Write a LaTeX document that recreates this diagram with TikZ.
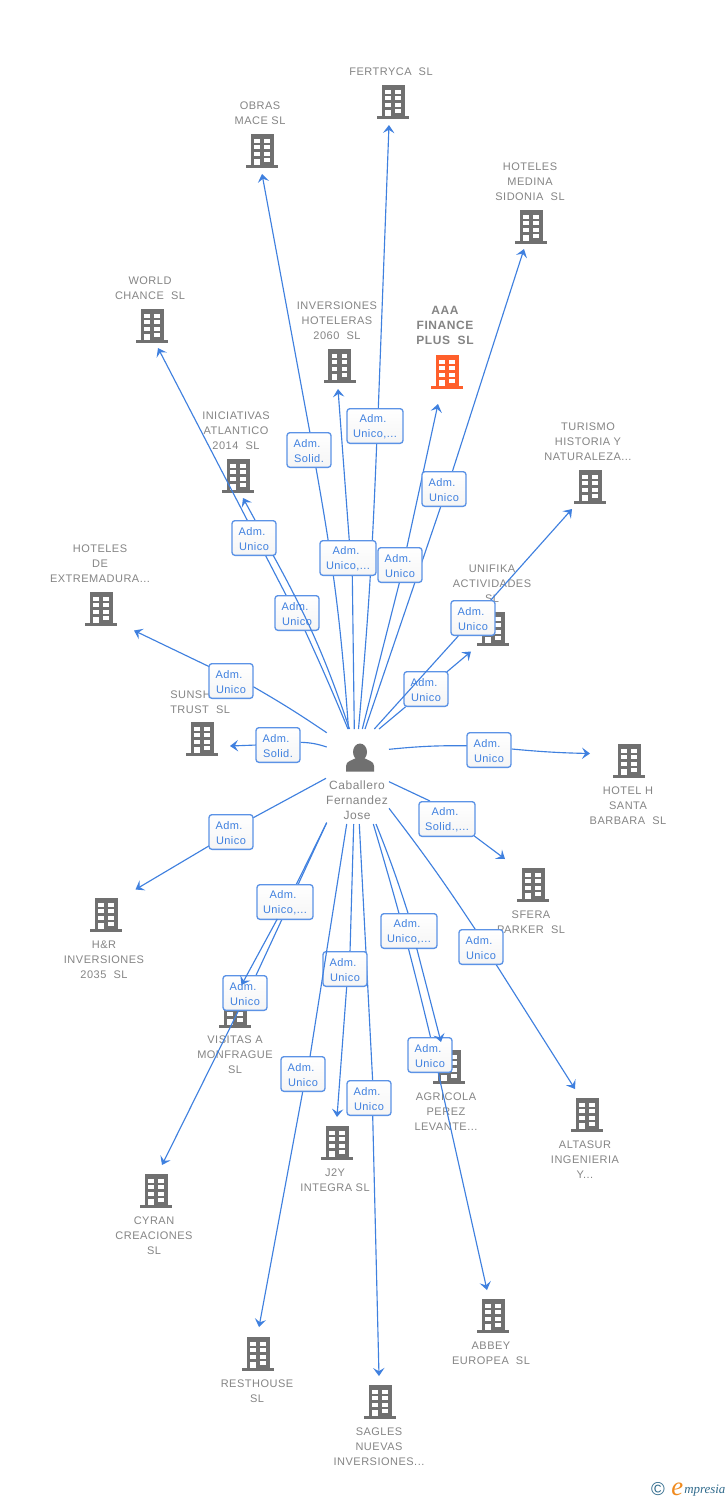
\documentclass[tikz,border=0pt]{standalone}
\usepackage{fontspec}
\setmainfont{Liberation Sans}
\newfontfamily\coF[LetterSpace=4.5]{Liberation Sans}
\newfontfamily\labF[LetterSpace=4]{Liberation Sans}
\newfontfamily\logoF{Liberation Serif}
\usetikzlibrary{arrows.meta,calc}
\pgfdeclarelayer{base}\pgfdeclarelayer{edges}\pgfdeclarelayer{top}
\pgfsetlayers{base,edges,main,top}
\definecolor{txtgray}{HTML}{858585}
\definecolor{icongray}{HTML}{707070}
\definecolor{iconred}{HTML}{FF5F2B}
\definecolor{linkblue}{HTML}{3F80DF}
\definecolor{boxblue}{HTML}{5C93E6}
\definecolor{logoteal}{HTML}{2F6A8C}
\definecolor{logoorange}{HTML}{F08A1D}
\tikzset{
  cotext/.style={anchor=north,align=center,inner sep=0pt,yshift=-2.25pt,text=txtgray,font=\coF\fontsize{8.25}{11.25}\selectfont},
  cobold/.style={anchor=north,align=center,inner sep=0pt,yshift=-1.5pt,text=txtgray,font=\coF\bfseries\fontsize{9}{11.25}\selectfont},
  pertext/.style={anchor=north,align=center,inner sep=0pt,yshift=-1.5pt,text=txtgray,font=\coF\fontsize{9}{11.25}\selectfont},
  lab/.style={draw=boxblue,line width=1pt,rounded corners=2.2pt,top color=white,bottom color=black!4,
     minimum width=33pt,minimum height=26pt,inner sep=0pt,align=center,text=linkblue,
     font=\labF\fontsize{8.25}{11.25}\selectfont},
  labw/.style={lab,minimum width=42pt},
  link/.style={draw=linkblue,line width=.85pt},
  tip/.style={link,-{Stealth[length=6pt,width=8.5pt,inset=2.4pt]}},
  bnode/.style={minimum width=24pt,minimum height=26pt,inner sep=0pt},
  pnode/.style={minimum width=22pt,minimum height=22pt,inner sep=0pt}
}
\newcommand{\adm}{\rule{0pt}{7.6pt}Adm.\kern3pt}
\newcommand{\bldg}[4]{%
  \node[bnode] (#1) at (#2,#3) {};
  \begin{scope}[shift={(#2,#3)}]
    \fill[#4] (-11.5,-17) rectangle (11.5,14);
    \fill[#4] (-16,14) rectangle (16,17);
    \foreach \ry in {-12.5,-6,0.5}{
      \fill[white] (-7.8,\ry) rectangle (-2.2,\ry+4.4);
      \fill[white] (2.2,\ry) rectangle (7.8,\ry+4.4);
    }
    \fill[white] (2.2,7) rectangle (7.8,11.4);
    \fill[white] (-7.8,7.5) rectangle (-2.2,14);
  \end{scope}}
\begin{document}
\begin{tikzpicture}[x=.75pt,y=-.75pt]
\useasboundingbox (0,0) rectangle (728,1500);
\begin{pgfonlayer}{base}
\fill[white] (0,0) rectangle (728,1500);
\bldg{b1}{393}{102}{icongray}
\node[cotext] (c1) at (391,64.5) {FERTRYCA~~SL};
\bldg{b2}{262}{151}{icongray}
\node[cotext] (c2) at (260,98.5) {OBRAS\\MACE SL};
\bldg{b3}{531}{227}{icongray}
\node[cotext] (c3) at (530,159.5) {HOTELES\\MEDINA\\SIDONIA~~SL};
\bldg{b4}{152}{326}{icongray}
\node[cotext] (c4) at (150,273.5) {WORLD\\CHANCE~~SL};
\bldg{b5}{339.5}{366}{icongray}
\node[cotext] (c5) at (337,298.5) {INVERSIONES\\HOTELERAS\\2060~~SL};
\bldg{b6}{447}{372}{iconred}
\node[cobold] (c6) at (445,303.5) {AAA\\FINANCE\\PLUS~~SL};
\bldg{b7}{238}{476}{icongray}
\node[cotext] (c7) at (236,408.5) {INICIATIVAS\\ATLANTICO\\2014~~SL};
\bldg{b8}{590}{487}{icongray}
\node[cotext] (c8) at (588,419.5) {TURISMO\\HISTORIA Y\\NATURALEZA...};
\bldg{b9}{101}{609}{icongray}
\node[cotext] (c9) at (100,541.5) {HOTELES\\DE\\EXTREMADURA...};
\bldg{b10}{493}{629}{icongray}
\node[cotext] (c10) at (492,561.5) {UNIFIKA\\ACTIVIDADES\\SL};
\bldg{b11}{202}{739}{icongray}
\node[cotext,anchor=north west] (c11a) at (170,687.5) {SUNSH};
\node[cotext,anchor=north west] (c11) at (170,702.5) {TRUST~~SL};
\bldg{b12}{629}{761}{icongray}
\node[cotext] (c12) at (628,783.5) {HOTEL H\\SANTA\\BARBARA~~SL};
\bldg{b13}{533}{885}{icongray}
\node[cotext] (c13) at (531,907.5) {SFERA\\PARKER~~SL};
\bldg{b14}{106}{915}{icongray}
\node[cotext] (c14) at (104,937.5) {H\&R\\INVERSIONES\\2035~~SL};
\bldg{b15}{235}{1011}{icongray}
\node[cotext] (c15) at (235,1032.5) {VISITAS A\\MONFRAGUE\\SL};
\bldg{b16}{449}{1067}{icongray}
\node[cotext] (c16) at (446,1089.5) {AGRICOLA\\PEREZ\\LEVANTE...};
\bldg{b17}{587}{1115}{icongray}
\node[cotext] (c17) at (585,1137.5) {ALTASUR\\INGENIERIA\\Y...};
\bldg{b18}{156}{1191}{icongray}
\node[cotext] (c18) at (154,1213.5) {CYRAN\\CREACIONES\\SL};
\bldg{b19}{337}{1143}{icongray}
\node[cotext] (c19) at (335,1165.5) {J2Y\\INTEGRA SL};
\bldg{b20}{258}{1354}{icongray}
\node[cotext] (c20) at (257,1376.5) {RESTHOUSE\\SL};
\bldg{b21}{493}{1316}{icongray}
\node[cotext] (c21) at (491,1338.5) {ABBEY\\EUROPEA~~SL};
\bldg{b22}{380}{1402}{icongray}
\node[cotext] (c22) at (379,1424.5) {SAGLES\\NUEVAS\\INVERSIONES...};
% person
\node[pnode] (p) at (360,757) {};
\fill[icongray] (360,752) ellipse (7 and 8.5);
\fill[icongray] (346,771.5) -- (346,766) .. controls (346,761) and (352,760.5) .. (356,758) -- (364,758) .. controls (368,760.5) and (374,761) .. (374,766) -- (374,771.5) -- cycle;
\node[pertext] (pt) at (357,778.5) {Caballero\\Fernandez\\Jose};
% logo
\node[anchor=center,inner sep=0pt,text=logoteal,font=\fontsize{14}{14}\selectfont] (lg1) at (658,1489) {©};
\node[anchor=base west,inner sep=0pt,text=logoorange,font=\logoF\itshape\fontsize{20}{20}\selectfont] (lg2) at (671,1495) {e};
\node[anchor=base west,inner sep=0pt,text=logoteal,font=\logoF\itshape\fontsize{9.7}{12}\selectfont] (lg3) at (684,1493) {mpresia};
\end{pgfonlayer}

% labels
\node[labw] (l1) at (375,426) {\adm\\Unico,...};
\node[lab]  (l2) at (309,450) {\adm\\Solid.};
\node[lab]  (l3) at (444,489) {\adm\\Unico};
\node[lab]  (l4) at (254,538) {\adm\\Unico};
\node[labw] (l5) at (348,558) {\adm\\Unico,...};
\node[lab]  (l6) at (400,565) {\adm\\Unico};
\node[lab]  (l7) at (297,613) {\adm\\Unico};
\node[lab]  (l8) at (473,618) {\adm\\Unico};
\node[lab]  (l9) at (426,689) {\adm\\Unico};
\node[lab]  (l10) at (231,681) {\adm\\Unico};
\node[lab]  (l11) at (278,745) {\adm\\Solid.};
\node[lab]  (l12) at (489,750) {\adm\\Unico};
\node[labw] (l13) at (447,819) {\adm\\Solid.,...};
\node[lab]  (l14) at (231,832) {\adm\\Unico};
\node[labw] (l15) at (285,902) {\adm\\Unico,...};
\node[labw] (l16) at (409,931) {\adm\\Unico,...};
\node[lab]  (l17) at (481,947) {\adm\\Unico};
\node[lab]  (l18) at (345,969) {\adm\\Unico};
\node[lab]  (l19) at (245,993) {\adm\\Unico};
\node[lab]  (l20) at (430,1055) {\adm\\Unico};
\node[lab]  (l21) at (303,1074) {\adm\\Unico};
\node[lab]  (l22) at (369,1098) {\adm\\Unico};

% free ends
\foreach \n/\sx/\sy/\tx/\ty in {
 1/358.5/729/389/125, 2/348.5/729/262/174, 3/365/729/524/249, 4/349.5/729/243/498,
 5/354.3/729/338/389, 6/362.3/729/438/404, 7/348/729/158/348, 8/374.3/729/572/509,
 9/379/729/471/651.5, 10/326.7/732.7/134/630.5, 11/326.7/747/230/746, 12/389/749.3/590/753.5,
 13/389/781.7/505/859, 14/326/778.3/135.5/889.5, 15/326.7/822.7/241.5/985, 16/376/824/441/1042,
 17/389/808.3/575/1089, 18/353.7/824/337/1117, 19/326.7/822.7/162/1165, 20/373.3/824/487/1290,
 21/346.7/824/259/1327, 22/359.3/824/379/1376}{
  \coordinate (s\n) at (\sx,\sy);
  \coordinate (t\n) at (\tx,\ty);
}

\begin{pgfonlayer}{edges}
\draw[link] (s1) to[bend right=1.4] ($(l1)+(1.7,17.5)$);   \draw[tip] ($(l1)+(3.3,-17.5)$) -- (t1);
\draw[link] (s2) to[bend right=3] ($(l2)+(7,18)$);         \draw[tip] ($(l2)+(1,-17)$) -- (t2);
\draw[link] (s3) -- ($(l3)+(-3.3,17.7)$);                  \draw[tip] ($(l3)+(8.3,-17.3)$) -- (t3);
\draw[tip] ($(l4)+(1,-18)$) -- (t4);
\draw[link] (s5) -- ($(l5)+(4.3,17.7)$);                   \draw[tip] ($(l5)+(1.3,-17.3)$) -- (t5);
\draw[link] (s6) -- ($(l6)+(-.7,18)$);                     \draw[tip] ($(l6)+(6.7,-17)$) -- (t6);
\draw[link] (s7) to[bend right=1] ($(l7)+(8,17.5)$);       \draw[tip] ($(l7)+(-11,-18)$) -- (t7);
\draw[tip] ($(l8)+(17,-17)$) -- (t8);
\draw[link] (s9) -- ($(l9)+(-20.3,17.7)$);                 \draw[tip] ($(l9)+(20.7,-17)$) -- (t9);
\draw[link] (s10) to[bend right=2] ($(l10)+(22.3,5.7)$);   \draw[tip] ($(l10)+(-21.7,-14.3)$) -- (t10);
\draw[link] (s11) to[bend right=8] ($(l11)+(22.7,-2.7)$);  \draw[tip] ($(l11)+(-21.3,0)$) -- (t11);
\draw[link] (s12) to[bend left=3] ($(l12)+(-21.7,-4.3)$);  \draw[tip] ($(l12)+(22.7,-1)$) to[bend right=2] (t12);
\draw[link] (s13) -- ($(l13)+(-17,-18)$);                  \draw[tip] ($(l13)+(27.3,17)$) -- (t13);
\draw[link] (s14) -- ($(l14)+(22.3,-14.3)$);               \draw[tip] ($(l14)+(-21.7,13.7)$) -- (t14);
\draw[link] (s15) -- ($(l15)+(11,-17)$);
\draw[link] (s16) to[bend left=2] ($(l16)+(-.7,-17)$);
\draw[link] (s17) to[bend left=2] ($(l17)+(-5.3,-17)$);    \draw[tip] ($(l17)+(15,17.3)$) -- (t17);
\draw[link] (s18) -- ($(l18)+(5,-16.7)$);                  \draw[tip] ($(l18)+(1.7,17.7)$) -- (t18);
\draw[link] (s19) -- ($(l19)+(10.7,-17)$);                 \draw[tip] ($(l19)+(-6.7,18)$) -- (t19);
\draw[link] (s20) to[bend left=1.5] ($(l20)+(.7,-17)$);    \draw[tip] ($(l20)+(8.3,18)$) -- (t20);
\draw[tip] ($(l21)+(-.3,17.7)$) -- (t21);
\draw[link] (s22) -- ($(l22)+(3.7,-16.3)$);                \draw[tip] ($(l22)+(3.7,18)$) -- (t22);
\end{pgfonlayer}
\begin{pgfonlayer}{top}
\draw[link] (s4) to[bend right=5] ($(l4)+(19.3,17.5)$);
\draw[link] (s8) -- ($(l8)+(-14.7,18)$);
\draw[link] (s21) -- ($(l21)+(7,-17.3)$);
\draw[tip] ($(l15)+(-7.7,17)$) -- (t15);
\draw[tip] ($(l16)+(7.7,17.3)$) -- (t16);
\end{pgfonlayer}
\end{tikzpicture}
\end{document}
